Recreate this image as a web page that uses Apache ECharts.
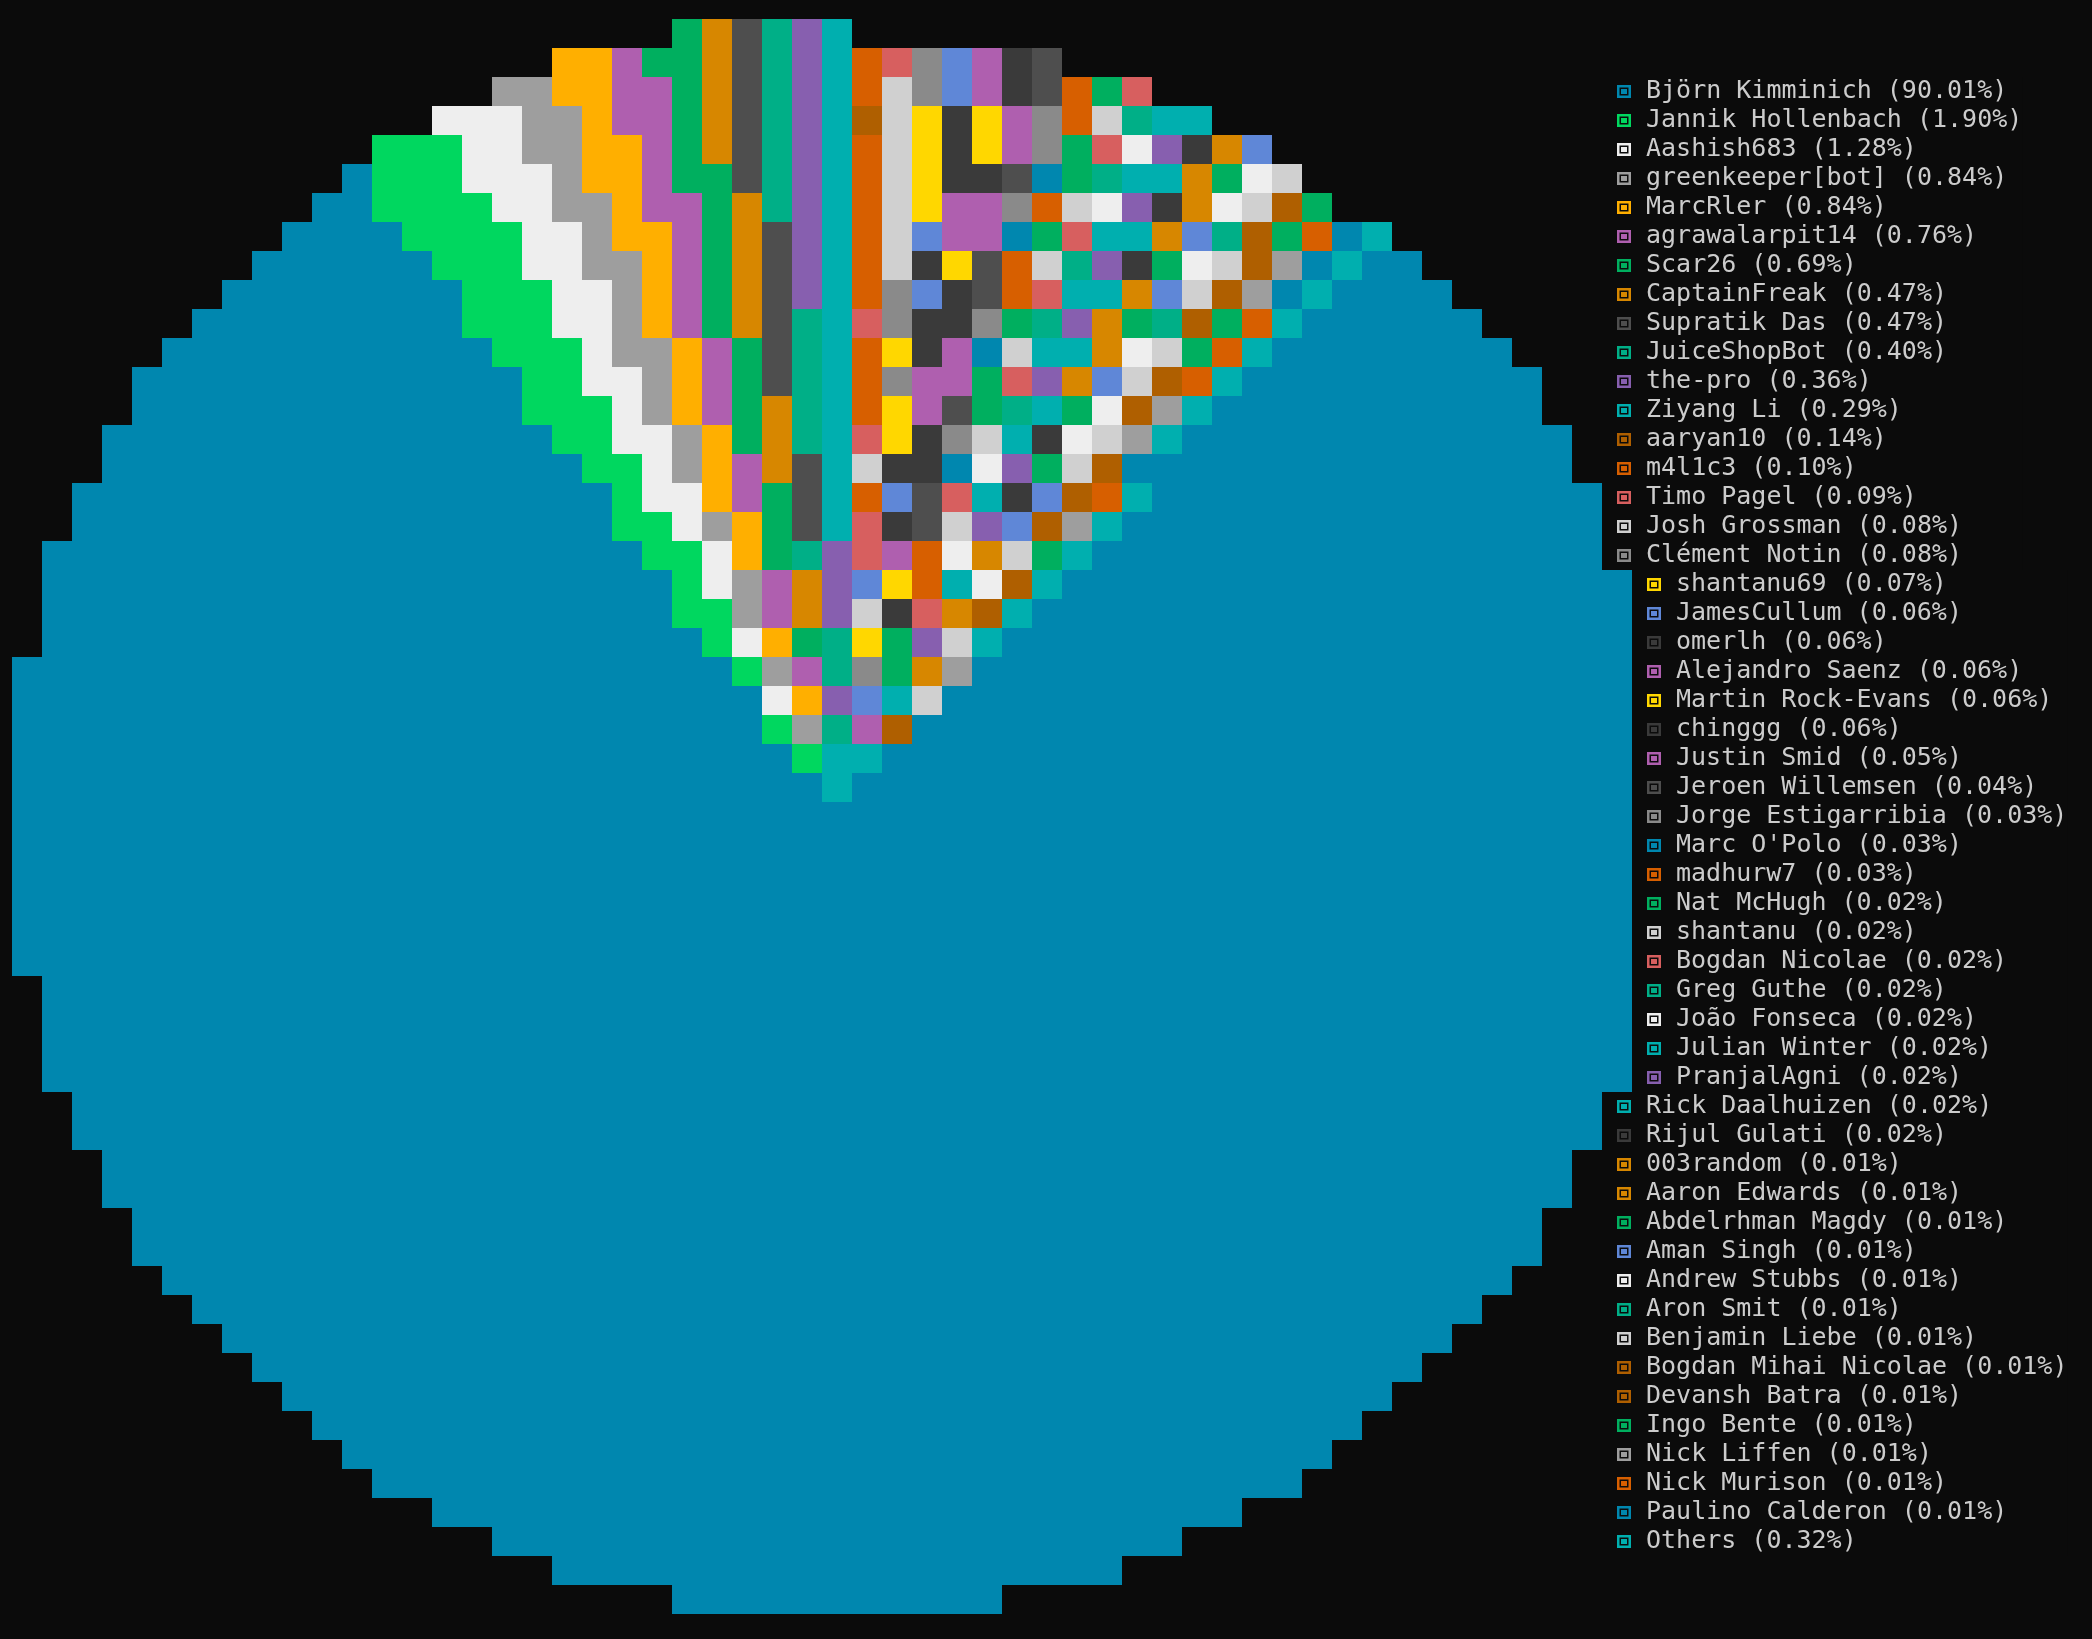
<!DOCTYPE html>
<html>
<head>
<meta charset="utf-8">
<script src="https://cdn.jsdelivr.net/npm/echarts@6/dist/echarts.min.js"></script>
<style>
html,body{margin:0;padding:0;background:#0b0b0b;}
#chart{width:2092px;height:1639px;}
</style>
</head>
<body>
<div id="chart"></div>
<script>
// ---- data ----
const names = ["Björn Kimminich","Jannik Hollenbach","Aashish683","greenkeeper[bot]","MarcRler","agrawalarpit14","Scar26","CaptainFreak","Supratik Das","JuiceShopBot","the-pro","Ziyang Li","aaryan10","m4l1c3","Timo Pagel","Josh Grossman","Clément Notin","shantanu69","JamesCullum","omerlh","Alejandro Saenz","Martin Rock-Evans","chinggg","Justin Smid","Jeroen Willemsen","Jorge Estigarribia","Marc O'Polo","madhurw7","Nat McHugh","shantanu","Bogdan Nicolae","Greg Guthe","João Fonseca","Julian Winter","PranjalAgni","Rick Daalhuizen","Rijul Gulati","003random","Aaron Edwards","Abdelrhman Magdy","Aman Singh","Andrew Stubbs","Aron Smit","Benjamin Liebe","Bogdan Mihai Nicolae","Devansh Batra","Ingo Bente","Nick Liffen","Nick Murison","Paulino Calderon","Others"];
const shares = [90.01,1.90,1.28,0.84,0.84,0.76,0.69,0.47,0.47,0.40,0.36,0.29,0.14,0.10,0.09,0.08,0.08,0.07,0.06,0.06,0.06,0.06,0.06,0.05,0.04,0.03,0.03,0.03,0.02,0.02,0.02,0.02,0.02,0.02,0.02,0.02,0.02,0.01,0.01,0.01,0.01,0.01,0.01,0.01,0.01,0.01,0.01,0.01,0.01,0.01,0.32];
const colors = ["#0087af","#00d75f","#eeeeee","#9e9e9e","#ffaf00","#af5faf","#00af5f","#d78700","#4e4e4e","#00af87","#875faf","#00afaf","#af5f00","#d75f00","#d75f5f","#d0d0d0","#8a8a8a","#ffd700","#5f87d7","#3a3a3a","#af5faf","#ffd700","#3a3a3a","#af5faf","#4e4e4e","#8a8a8a","#0087af","#d75f00","#00af5f","#d0d0d0","#d75f5f","#00af87","#eeeeee","#00afaf","#875faf","#00afaf","#3a3a3a","#d78700","#d78700","#00af5f","#5f87d7","#eeeeee","#00af87","#d0d0d0","#af5f00","#af5f00","#00af5f","#9e9e9e","#d75f00","#0087af","#00afaf"];
// legend column groups (second group is shifted one pie cell to the right)
const legendGroups = [[0,16],[17,34],[35,50]];

// ---- pixel-pie rasterisation ----
const GRID = 55;            // cells per side
const CENTER = 27.5;        // pie centre in cell units
const RADIUS = 27.55;       // pie radius in cell units
const RADIUS_SMALL = 27.01; // radius used by the tiniest slices
const SMALL_SHARE = 0.2;    // shares below this use RADIUS_SMALL
const START_DEG = 42.4;     // first slice starts here, clockwise from 12 o'clock
const SLICE_PAD = 0.3;      // extra weight added to each slice when drawn
const SS = 5;               // sub-samples per cell side

const weights = shares.map(v => v + SLICE_PAD);
const totalW = weights.reduce((a,b)=>a+b,0);
const bounds = [];
let acc = 0;
weights.forEach(w => { acc += w / totalW * 360; bounds.push(acc); });

function sliceAtAngle(x, y) {
  const dx = x - CENTER, dy = y - CENTER;
  const th = Math.atan2(dx, -dy) * 180 / Math.PI;
  const ph = ((th - START_DEG) % 360 + 360) % 360;
  for (let i = 0; i < bounds.length; i++) if (ph < bounds[i]) return i;
  return bounds.length - 1;
}

const cellsBySlice = names.map(() => []);
for (let r = 0; r < GRID; r++) {
  for (let c = 0; c < GRID; c++) {
    const dcx = c + 0.5 - CENTER, dcy = r + 0.5 - CENTER;
    const d = Math.sqrt(dcx*dcx + dcy*dcy);
    if (d > RADIUS) continue;
    const cnt = new Array(names.length).fill(0);
    for (let sy = 0; sy < SS; sy++) for (let sx = 0; sx < SS; sx++) {
      cnt[sliceAtAngle(c + (sx + 0.5) / SS, r + (sy + 0.5) / SS)]++;
    }
    let best = 0;
    for (let k = 1; k < cnt.length; k++) if (cnt[k] > cnt[best]) best = k;
    if (shares[best] < SMALL_SHARE && d > RADIUS_SMALL) continue;
    cellsBySlice[best].push([c, r]);
  }
}

const chart = echarts.init(document.getElementById('chart'), null, {renderer: 'canvas'});
const series = names.map((n, i) => ({
  type: 'custom',
  name: n,
  coordinateSystem: 'cartesian2d',
  animation: false,
  silent: true,
  clip: false,
  z: 1,
  itemStyle: {color: colors[i]},
  encode: {x: 0, y: 1},
  data: cellsBySlice[i],
  renderItem: function (params, api) {
    const p0 = api.coord([api.value(0), api.value(1)]);
    const p1 = api.coord([api.value(0) + 1, api.value(1) + 1]);
    return {type: 'rect', shape: {x: p0[0], y: p0[1], width: p1[0] - p0[0], height: p1[1] - p0[1]}, style: {fill: api.visual('color')}};
  }
}));

const pctOf = {};
names.forEach((n, i) => { pctOf[n] = shares[i].toFixed(2) + '%'; });
const ICON = 'path://M0,0H14V13H0Z M2.5,2.5V10.5H11.5V2.5Z M4,4H10V9H4Z';
const legendLeft = [1602, 1632, 1602];
const legendTop = [77, 570, 1092];
const legends = legendGroups.map((g, gi) => ({
  orient: 'vertical',
  left: legendLeft[gi],
  top: legendTop[gi],
  padding: [0, 0, 0, 15],
  backgroundColor: '#0b0b0b',
  itemGap: 0,
  itemWidth: 14,
  itemHeight: 13,
  icon: ICON,
  selectedMode: false,
  z: 5,
  itemStyle: {borderWidth: 0},
  data: names.slice(g[0], g[1] + 1),
  formatter: n => n + ' (' + pctOf[n] + ')',
  textStyle: {color: '#cccccc', fontFamily: 'DejaVu Sans Mono', fontSize: 25, lineHeight: 29, padding: [0, 0, 0, 10]}
}));

chart.setOption({
  backgroundColor: '#0b0b0b',
  animation: false,
  grid: {left: 12, top: 19, width: GRID * 30, height: GRID * 29, containLabel: false},
  xAxis: {type: 'value', min: 0, max: GRID, show: false},
  yAxis: {type: 'value', min: 0, max: GRID, inverse: true, show: false},
  legend: legends,
  series: series
});
</script>
</body>
</html>
